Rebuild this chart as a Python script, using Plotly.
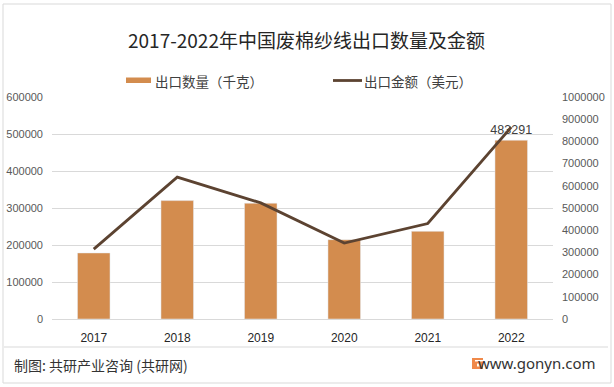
import plotly.graph_objects as go

years = ["2017", "2018", "2019", "2020", "2021", "2022"]
quantity_kg = [178500, 320000, 313000, 214500, 237000, 483291]
amount_usd = [315000, 639000, 523000, 342000, 430000, 864000]
left_ticks = [0, 100000, 200000, 300000, 400000, 500000, 600000]
right_ticks = [0, 100000, 200000, 300000, 400000, 500000, 600000, 700000, 800000, 900000, 1000000]

BAR = "#D38C4E"
LINE = "#5C4331"
TICK = "#595959"
NUMFONT = "Liberation Sans, Arial, sans-serif"
CJK = "Noto Sans CJK SC, sans-serif"

W, H = 614, 387
L, R, T, B = 52, 61, 97, 68
pw, ph = W - L - R, H - T - B

def px(x):
    return (x - L) / pw

def py(y):
    return (H - B - y) / ph

fig = go.Figure()
fig.add_trace(go.Bar(
    x=years, y=quantity_kg, name="出口数量（千克）", marker_color=BAR,
    width=0.39, yaxis="y", showlegend=False,
    text=[""] * 5 + [str(quantity_kg[-1])], textposition="outside",
    constraintext="none",
    textfont=dict(size=12.5, color="#404040", family=NUMFONT), cliponaxis=False,
))
fig.add_trace(go.Scatter(
    x=years, y=amount_usd, name="出口金额（美元）", mode="lines",
    line=dict(color=LINE, width=2.8), yaxis="y2", showlegend=False,
))

shapes = [
    dict(type="rect", xref="paper", yref="paper", x0=px(3), x1=px(611), y0=py(383), y1=py(4),
         line=dict(color="#D9D9D9", width=1), fillcolor="rgba(0,0,0,0)", layer="below"),
    dict(type="line", xref="paper", yref="paper", x0=px(4), x1=px(608), y0=py(347), y1=py(347),
         line=dict(color="#D9D9D9", width=1)),
    dict(type="rect", xref="paper", yref="paper", x0=px(126), x1=px(151), y0=py(83), y1=py(77.5),
         fillcolor=BAR, line=dict(width=0)),
    dict(type="line", xref="paper", yref="paper", x0=px(333), x1=px(362), y0=py(80.5), y1=py(80.5),
         line=dict(color=LINE, width=2.8)),
    # logo
    dict(type="rect", xref="paper", yref="paper", x0=px(472), x1=px(483), y0=py(369), y1=py(358),
         fillcolor="#F0894A", line=dict(width=0)),
    dict(type="rect", xref="paper", yref="paper", x0=px(475), x1=px(483), y0=py(361.5), y1=py(360),
         fillcolor="white", line=dict(width=0)),
    dict(type="rect", xref="paper", yref="paper", x0=px(477), x1=px(480), y0=py(366.5), y1=py(363.5),
         fillcolor="white", line=dict(width=0)),
]

annotations = [
    dict(text="2017-2022年中国废棉纱线出口数量及金额", xref="paper", yref="paper",
         x=px(306.5), y=py(40), xanchor="center", yanchor="middle", showarrow=False,
         font=dict(size=19, color="#262626", family=CJK)),
    dict(text="出口数量（千克）", xref="paper", yref="paper", x=px(153), y=py(80.5),
         xanchor="left", yanchor="middle", showarrow=False,
         font=dict(size=13.5, color="#404040", family=CJK)),
    dict(text="出口金额（美元）", xref="paper", yref="paper", x=px(362), y=py(80.5),
         xanchor="left", yanchor="middle", showarrow=False,
         font=dict(size=13.5, color="#404040", family=CJK)),
    dict(text="制图: 共研产业咨询 (共研网)", xref="paper", yref="paper", x=px(12), y=py(365),
         xanchor="left", yanchor="middle", showarrow=False,
         font=dict(size=14, color="#333333", family=CJK)),
    dict(text="www.gonyn.com", xref="paper", yref="paper", x=px(598), y=py(363),
         xanchor="right", yanchor="middle", showarrow=False,
         font=dict(size=15, color="#333333", family="Noto Sans, sans-serif")),
]

fig.update_layout(
    width=W, height=H,
    margin=dict(l=L, r=R, t=T, b=B, pad=0),
    paper_bgcolor="white", plot_bgcolor="white",
    shapes=shapes, annotations=annotations,
    xaxis=dict(type="category", showgrid=False, showline=True, linecolor="#D9D9D9",
               ticks="", ticklabelstandoff=8, automargin=False,
               tickfont=dict(size=12, color="#262626", family=NUMFONT),
               fixedrange=True),
    yaxis=dict(range=[0, 600000], tickvals=left_ticks, ticktext=[str(v) for v in left_ticks],
               showgrid=True, gridcolor="#D9D9D9", gridwidth=1, zeroline=False,
               showline=False, ticks="", ticklabelstandoff=8, automargin=False,
               tickfont=dict(size=11, color=TICK, family=NUMFONT)),
    yaxis2=dict(range=[0, 1000000], tickvals=right_ticks, ticktext=[str(v) for v in right_ticks],
                overlaying="y", side="right", showgrid=False, zeroline=False,
                showline=False, ticks="", ticklabelstandoff=8, automargin=False,
                tickfont=dict(size=11, color=TICK, family=NUMFONT)),
    font=dict(family=CJK),
)

fig.write_html("out.html", config={"displayModeBar": False},
               post_script="document.body.style.margin='0';document.body.style.padding='0';")
